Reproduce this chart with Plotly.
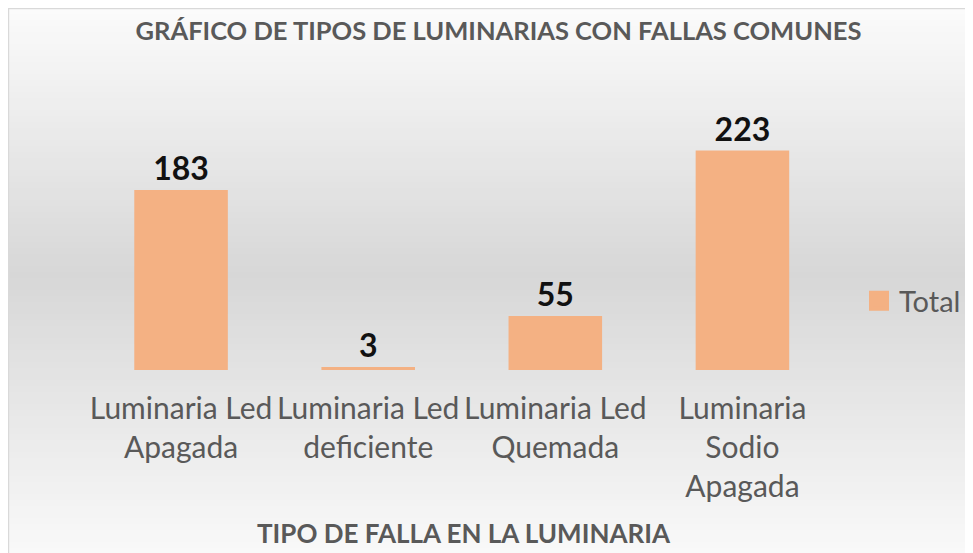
import plotly.graph_objects as go

categories = ["Luminaria Led<br>Apagada", "Luminaria Led<br>deficiente",
              "Luminaria Led<br>Quemada", "Luminaria<br>Sodio<br>Apagada"]
totals = [183, 3, 55, 223]
series_name = "Total"
chart_title = "GRÁFICO DE TIPOS DE LUMINARIAS CON FALLAS COMUNES"
x_title = "TIPO DE FALLA EN LA LUMINARIA"

W, H = 973, 553
OX, OY = 8, 8  # page body margin
BAR = "#F4B183"
GREY = "#595959"
FONT = "Lato, Open Sans, sans-serif"

def px(x):
    return (x - OX) / W

def py(y):
    return 1 - (y - OY) / H

fig = go.Figure()
fig.add_trace(go.Bar(
    x=categories, y=totals, name=series_name, marker=dict(color=BAR, line=dict(width=0)),
    text=[str(v) for v in totals], textposition="outside", cliponaxis=False,
    textfont=dict(family=FONT, size=32, color="#111111", weight="bold"),
    showlegend=False, hoverinfo="x+y"))
# legend entry
fig.add_trace(go.Scatter(
    x=[None], y=[None], mode="markers", name=series_name,
    marker=dict(symbol="square", size=16, color=BAR, line=dict(width=4, color=BAR)),
    showlegend=True))

# gradient background band shapes (styling only)
shapes = []
top, bottom = OY, H + OY
stops = [(top, 251), (275, 215), (bottom, 250)]
def shade(y):
    for (y0, c0), (y1, c1) in zip(stops[:-1], stops[1:]):
        if y0 <= y <= y1:
            t = (y - y0) / (y1 - y0)
            return c0 + (c1 - c0) * t
    return stops[-1][1]
step = 6
y = top
while y < bottom:
    y2 = min(y + step, bottom)
    c = int(round(shade((y + y2) / 2)))
    shapes.append(dict(type="rect", xref="paper", yref="paper",
                       x0=0, x1=1.0, y0=py(y2), y1=py(y),
                       fillcolor=f"rgb({c},{c},{c})", line=dict(width=0), layer="below"))
    y = y2
# frame border
shapes.append(dict(type="rect", xref="paper", yref="paper",
                   x0=0.6 / W, x1=1.01, y0=-0.01, y1=1 - 0.6 / H,
                   fillcolor="rgba(0,0,0,0)", line=dict(width=1.2, color="#d9d9d9"), layer="below"))

fig.update_layout(
    width=W, height=H,
    margin=dict(l=0, r=0, t=0, b=0),
    paper_bgcolor="#ffffff", plot_bgcolor="rgba(0,0,0,0)",
    font=dict(family=FONT, color=GREY),
    title=dict(text=f"<b>{chart_title}</b>", x=px(498.5), xanchor="center",
               y=py(31), yanchor="middle", font=dict(family=FONT, size=25.5, color=GREY)),
    bargap=0.5,
    xaxis=dict(domain=[px(87.5), px(836)], tickangle=0, showgrid=False, zeroline=False,
               showline=False, ticks="", ticklabelstandoff=18,
               tickfont=dict(family=FONT, size=30, color=GREY),
               automargin=False),
    yaxis=dict(domain=[py(370), py(124)], range=[0, 250], visible=False, automargin=False),
    showlegend=True,
    legend=dict(x=px(859), xanchor="left", y=py(301), yanchor="middle",
                bgcolor="rgba(0,0,0,0)", font=dict(family=FONT, size=29, color=GREY)),
    shapes=shapes,
    annotations=[dict(text=f"<b>{x_title}</b>", xref="paper", yref="paper",
                      x=px(463.5), y=py(533), xanchor="center", yanchor="middle",
                      showarrow=False, font=dict(family=FONT, size=26, color=GREY))],
)

fig.write_html("out.html")
